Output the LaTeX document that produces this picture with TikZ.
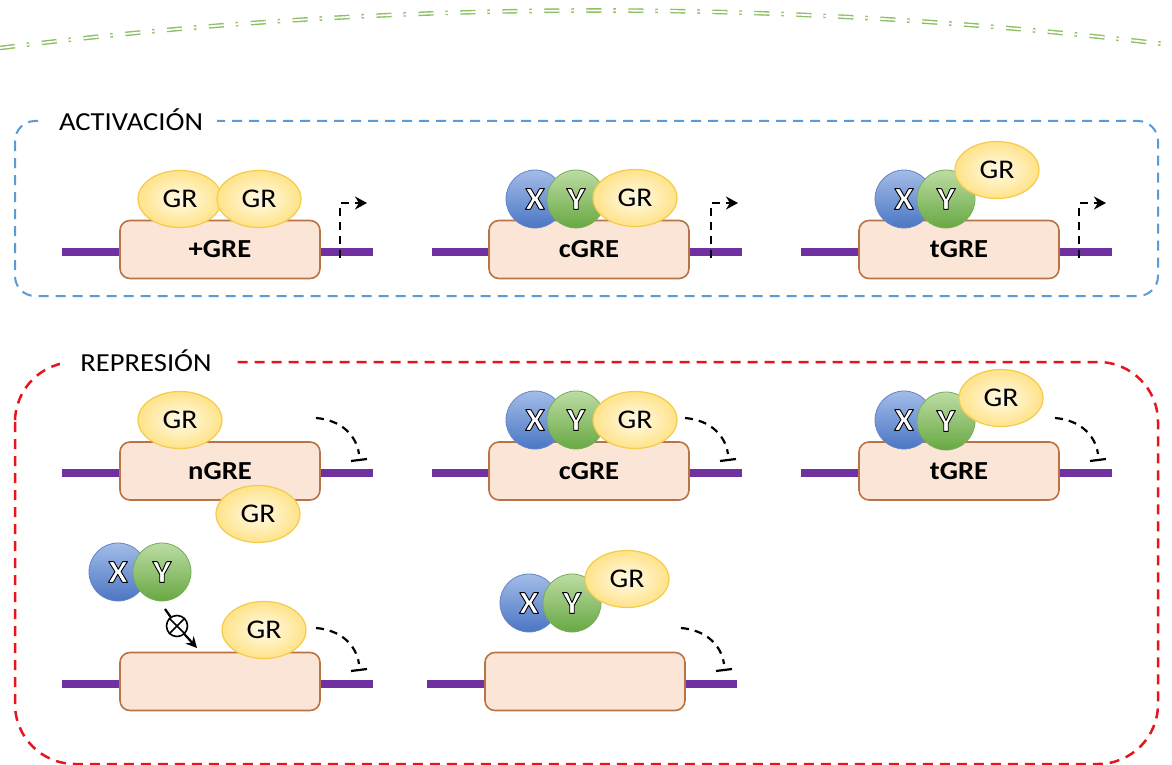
\documentclass[tikz,border=0pt]{standalone}
\usepackage{fontspec}
\setmainfont{Carlito}[FakeStretch=1.1]
\usetikzlibrary{shapes.geometric,arrows.meta,calc}

\definecolor{dnaPurple}{HTML}{7030A0}
\definecolor{boxFill}{HTML}{FBE5D6}
\definecolor{boxEdge}{HTML}{B87447}
\definecolor{grIn}{HTML}{FFFAE8}
\definecolor{grOut}{HTML}{FFE389}
\definecolor{grEdge}{HTML}{F5CB4A}
\definecolor{xTop}{HTML}{A3BCE8}
\definecolor{xBot}{HTML}{4B76C4}
\definecolor{xEdge}{HTML}{6585C4}
\definecolor{yTop}{HTML}{BCDCA3}
\definecolor{yBot}{HTML}{68A843}
\definecolor{yEdge}{HTML}{78AE58}
\definecolor{actBlue}{HTML}{5B9BD5}
\definecolor{repRed}{HTML}{E8141C}
\definecolor{arcGreen}{HTML}{8CC063}

% white letter with a black stroked outline (PDF text render mode 2)
\newcommand\olet[1]{{\bfseries\color{white}%
  \special{pdf:literal direct 0 G 0.45 w 1 j 2 Tr}#1%
  \special{pdf:literal direct 0 Tr}}}

\tikzset{
  dna/.style={line width=4.3pt, draw=dnaPurple},
  grebox/.style={draw=boxEdge, fill=boxFill, line width=0.8pt, rounded corners=5pt,
    minimum width=100pt, minimum height=29pt, inner sep=0pt,
    font=\fontsize{13}{13}\selectfont\bfseries},
  grell/.style={ellipse, draw=grEdge, line width=0.6pt, inner color=grIn, outer color=grOut,
    minimum width=42pt, minimum height=28.5pt, inner sep=0pt,
    font=\fontsize{13.5}{13.5}\selectfont},
  xball/.style={circle, draw=xEdge, line width=0.4pt, top color=xTop, bottom color=xBot,
    minimum size=29pt, inner sep=0pt, font=\fontsize{16}{16}\selectfont},
  yball/.style={circle, draw=yEdge, line width=0.4pt, top color=yTop, bottom color=yBot,
    minimum size=29pt, inner sep=0pt, font=\fontsize{16}{16}\selectfont},
  prom/.style={line width=1.1pt, dash pattern=on 4pt off 3pt, -{Stealth[length=6pt,width=6.5pt]}},
  inhib/.style={line width=1.1pt, dash pattern=on 4pt off 3pt},
  inhibbar/.style={line width=1.1pt},
  actbox/.style={draw=actBlue, line width=1pt, dash pattern=on 5pt off 3.5pt, rounded corners=10pt},
  repbox/.style={draw=repRed, line width=1.25pt, dash pattern=on 5pt off 3.5pt, rounded corners=30pt},
  boxlabel/.style={fill=white, inner ysep=2pt, font=\fontsize{13}{13}\selectfont},
  greenarc/.style={draw=arcGreen, line width=0.7pt, double=white, double distance=0.9pt,
    dash pattern=on 7.5pt off 6pt on 1.2pt off 6.3pt},
}

\begin{document}
\begin{tikzpicture}[x=0.5pt,y=-0.5pt]
\useasboundingbox (0,0) rectangle (1172,765);
\fill[white] (0,0) rectangle (1172,765);
\clip (0,0) rectangle (1172,765);

% arc along the top edge
\coordinate (g0) at (0,48);
\coordinate (g1) at (1172,45);
\draw[greenarc] (g0) .. controls (391,-1) and (781,-2) .. (g1);

% ---------- activation frame ----------
\draw[actbox] (15,121) rectangle (1158,296);
\node[boxlabel, inner xsep=7pt] (actlabel) at (131,120) {ACTIVACIÓN};

% unit 1: +GRE
\draw[dna] (62,252) -- (373,252);
\node[grebox] (a1box) at (220,249.5) {+GRE};
\node[grell] (a1gr1) at (180,199) {GR};
\node[grell] (a1gr2) at (259,199) {GR};
\coordinate (a1p0) at (340,258);
\coordinate (a1p1) at (367,203);
\draw[prom] (a1p0) |- (a1p1);

% unit 2: cGRE
\draw[dna] (432,252) -- (742,252);
\node[grebox] (a2box) at (589,249.5) {cGRE};
\node[xball] (a2x) at (535,199) {\olet{X}};
\node[yball] (a2y) at (576,199) {\olet{Y}};
\node[grell] (a2gr) at (635,198) {GR};
\coordinate (a2p0) at (711,258);
\coordinate (a2p1) at (738,203);
\draw[prom] (a2p0) |- (a2p1);

% unit 3: tGRE
\draw[dna] (801,252) -- (1112,252);
\node[grebox] (a3box) at (959,249.5) {tGRE};
\node[xball] (a3x) at (904,199) {\olet{X}};
\node[yball] (a3y) at (946,199) {\olet{Y}};
\node[grell] (a3gr) at (997,170) {GR};
\coordinate (a3p0) at (1079,258);
\coordinate (a3p1) at (1106,203);
\draw[prom] (a3p0) |- (a3p1);

% ---------- repression frame ----------
\draw[repbox] (15,362) rectangle (1158,764);
\node[boxlabel, inner xsep=10pt] (replabel) at (146,361) {REPRESIÓN};

% unit 1: nGRE
\draw[dna] (62,473) -- (373,473);
\node[grebox] (r1box) at (220,471) {nGRE};
\node[grell] (r1gr1) at (180,420) {GR};
\node[grell] (r1gr2) at (258,514) {GR};
\coordinate (r1i0) at (316,418);
\coordinate (r1i1) at (359,454);
\draw[inhib] (r1i0) .. controls +(24,2) and +(-3,-20) .. (r1i1);
\coordinate (r1b0) at (351,461);
\coordinate (r1b1) at (367,459);
\draw[inhibbar] (r1b0) -- (r1b1);

% unit 2: cGRE
\draw[dna] (432,473) -- (742,473);
\node[grebox] (r2box) at (589,471) {cGRE};
\node[xball] (r2x) at (535,420) {\olet{X}};
\node[yball] (r2y) at (576,420) {\olet{Y}};
\node[grell] (r2gr) at (635,420) {GR};
\coordinate (r2i0) at (685,418);
\coordinate (r2i1) at (728,454);
\draw[inhib] (r2i0) .. controls +(24,2) and +(-3,-20) .. (r2i1);
\coordinate (r2b0) at (720,461);
\coordinate (r2b1) at (736,459);
\draw[inhibbar] (r2b0) -- (r2b1);

% unit 3: tGRE
\draw[dna] (801,473) -- (1112,473);
\node[grebox] (r3box) at (959,471) {tGRE};
\node[xball] (r3x) at (904,420) {\olet{X}};
\node[yball] (r3y) at (946,421) {\olet{Y}};
\node[grell] (r3gr) at (1001,398) {GR};
\coordinate (r3i0) at (1055,418);
\coordinate (r3i1) at (1098,454);
\draw[inhib] (r3i0) .. controls +(24,2) and +(-3,-20) .. (r3i1);
\coordinate (r3b0) at (1090,461);
\coordinate (r3b1) at (1106,459);
\draw[inhibbar] (r3b0) -- (r3b1);

% unit 4: blocked X-Y complex
\draw[dna] (62,684) -- (373,684);
\node[grebox] (r4box) at (220,681.5) {};
\node[xball] (r4x) at (118,572) {\olet{X}};
\node[yball] (r4y) at (162,572) {\olet{Y}};
\node[circle, draw, line width=0.8pt, minimum size=10.5pt, inner sep=0pt] (r4no) at (177,626) {};
\draw[line width=0.8pt] (r4no.north west) -- (r4no.south east);
\draw[line width=0.8pt] (r4no.north east) -- (r4no.south west);
\coordinate (r4s) at (165,609);
\coordinate (r4t) at (197,648);
\draw[line width=1.1pt] (r4s) -- (r4no);
\draw[line width=1.1pt, -{Stealth[length=5.5pt,width=5.5pt]}] (r4no) -- (r4t);
\node[grell] (r4gr) at (264,630) {GR};
\coordinate (r4i0) at (316,628);
\coordinate (r4i1) at (359,664);
\draw[inhib] (r4i0) .. controls +(24,2) and +(-3,-20) .. (r4i1);
\coordinate (r4b0) at (351,671);
\coordinate (r4b1) at (367,669);
\draw[inhibbar] (r4b0) -- (r4b1);

% unit 5: free X-Y-GR complex
\draw[dna] (427,684) -- (737,684);
\node[grebox] (r5box) at (585,681.5) {};
\node[xball] (r5x) at (529,603) {\olet{X}};
\node[yball] (r5y) at (572,603) {\olet{Y}};
\node[grell] (r5gr) at (627,579) {GR};
\coordinate (r5i0) at (681,628);
\coordinate (r5i1) at (724,664);
\draw[inhib] (r5i0) .. controls +(24,2) and +(-3,-20) .. (r5i1);
\coordinate (r5b0) at (716,671);
\coordinate (r5b1) at (732,669);
\draw[inhibbar] (r5b0) -- (r5b1);
\end{tikzpicture}
\end{document}
